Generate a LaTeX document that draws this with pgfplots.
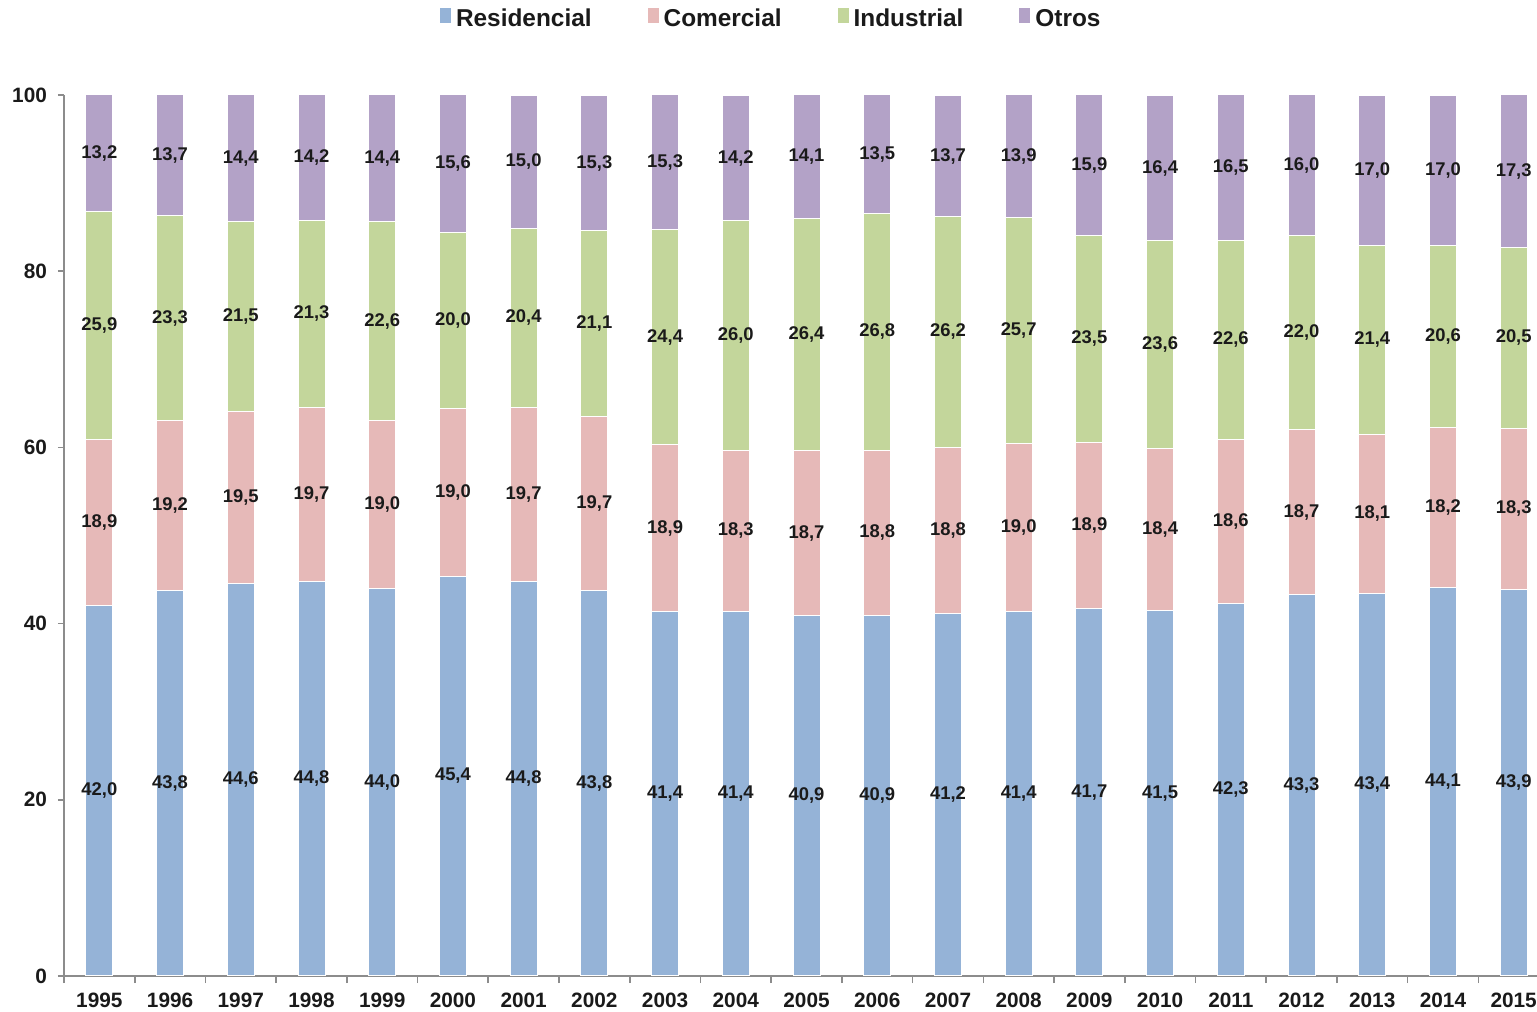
\documentclass[border=0pt]{standalone}
\usepackage{fontspec}
\setmainfont{Liberation Sans}
\usepackage{pgfplots}
\usepackage{pgfplotstable}
\pgfplotsset{compat=1.18}
\definecolor{cRes}{HTML}{95B3D7}
\definecolor{cCom}{HTML}{E6B9B8}
\definecolor{cInd}{HTML}{C3D69B}
\definecolor{cOtr}{HTML}{B3A2C7}
\definecolor{axgray}{HTML}{8C8C8C}
\definecolor{txt}{HTML}{1A1A1A}
\pgfplotstableread{
idx year r c i o
0 1995 42.0 18.9 25.9 13.2
1 1996 43.8 19.2 23.3 13.7
2 1997 44.6 19.5 21.5 14.4
3 1998 44.8 19.7 21.3 14.2
4 1999 44.0 19.0 22.6 14.4
5 2000 45.4 19.0 20.0 15.6
6 2001 44.8 19.7 20.4 15.0
7 2002 43.8 19.7 21.1 15.3
8 2003 41.4 18.9 24.4 15.3
9 2004 41.4 18.3 26.0 14.2
10 2005 40.9 18.7 26.4 14.1
11 2006 40.9 18.8 26.8 13.5
12 2007 41.2 18.8 26.2 13.7
13 2008 41.4 19.0 25.7 13.9
14 2009 41.7 18.9 23.5 15.9
15 2010 41.5 18.4 23.6 16.4
16 2011 42.3 18.6 22.6 16.5
17 2012 43.3 18.7 22.0 16.0
18 2013 43.4 18.1 21.4 17.0
19 2014 44.1 18.2 20.6 17.0
20 2015 43.9 18.3 20.5 17.3
}\data
\pgfplotsset{
  /pgfplots/ybar legend/.style={
    /pgfplots/legend image code/.code={\fill[##1,draw=none] (0pt,-2.6pt) rectangle (5.2pt,2.6pt);}
  },
  common/.style={
    scale only axis,
    width=736.5pt, height=440.5pt,
    xmin=-0.5, xmax=20.33,
    ymin=0, ymax=100,
  },
  lbl/.style={draw=none, mark=none, forget plot,
    nodes near coords={\pgfmathprintnumber[assume math mode=true,use comma,fixed,fixed zerofill,precision=1]{\pgfplotspointmeta}},
    point meta=explicit,
    every node near coord/.append style={anchor=center, inner sep=0pt,
      font=\bfseries\fontsize{9.2}{10}\selectfont, text=txt}},
}
\begin{document}
\begin{tikzpicture}
\begin{axis}[
  common,
  ybar stacked,
  bar width=13.5pt,
  ytick={0,20,...,100},
  xtick={0,...,20},
  xticklabels={1995,1996,1997,1998,1999,2000,2001,2002,2003,2004,2005,2006,2007,2008,2009,2010,2011,2012,2013,2014,2015},
  minor xtick={-0.5,0.5,...,20.5},
  axis x line*=bottom,
  axis y line*=left,
  axis line style={axgray, line width=0.8pt},
  tick align=outside,
  major tick length=3pt,
  minor tick length=3.5pt,
  major x tick style={draw=none},
  minor x tick style={axgray, line width=0.8pt},
  major y tick style={axgray, line width=0.8pt},
  ticklabel style={font=\bfseries\fontsize{10.4}{12}\selectfont, text=txt},
  yticklabel style={xshift=-2pt},
  xticklabel style={yshift=-2pt},
  /pgf/number format/assume math mode=true,
  legend style={at={(0.4805,1.086)}, anchor=center, draw=none, fill=none,
     legend columns=-1, font=\bfseries\fontsize{12.2}{14}\selectfont, text=txt,
     /tikz/every even column/.append style={column sep=25.5pt}},
  legend cell align=left,
]
\addplot[fill=cRes, draw=white, line width=0.5pt] table[x=idx,y=r]{\data};
\addplot[fill=cCom, draw=white, line width=0.5pt] table[x=idx,y=c]{\data};
\addplot[fill=cInd, draw=white, line width=0.5pt] table[x=idx,y=i]{\data};
\addplot[fill=cOtr, draw=white, line width=0.5pt] table[x=idx,y=o]{\data};
\legend{Residencial,Comercial,Industrial,Otros}
\end{axis}
\begin{axis}[common, hide axis]
\addplot[lbl] table[x=idx, y expr=\thisrow{r}/2, meta=r]{\data};
\addplot[lbl] table[x=idx, y expr=\thisrow{r}+\thisrow{c}/2, meta=c]{\data};
\addplot[lbl] table[x=idx, y expr=\thisrow{r}+\thisrow{c}+\thisrow{i}/2, meta=i]{\data};
\addplot[lbl] table[x=idx, y expr=\thisrow{r}+\thisrow{c}+\thisrow{i}+\thisrow{o}/2, meta=o]{\data};
\end{axis}
\pgfresetboundingbox
\useasboundingbox (-32pt,-18pt) rectangle (736.5pt,488pt);
\end{tikzpicture}
\end{document}
